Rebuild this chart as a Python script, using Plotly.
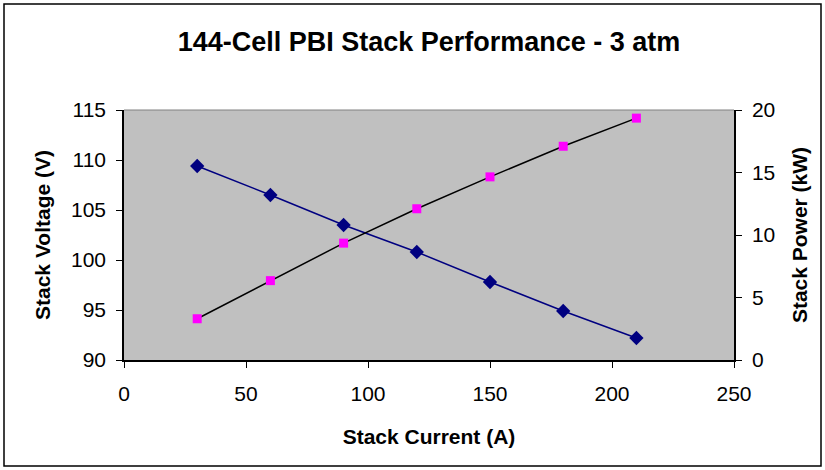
import plotly.graph_objects as go

current = [30, 60, 90, 120, 150, 180, 210]
voltage = [109.4, 106.5, 103.5, 100.8, 97.8, 94.9, 92.2]
power = [3.3, 6.35, 9.35, 12.1, 14.65, 17.1, 19.35]

W, H = 825, 470
L, R, T, B = 124, 91, 110, 110
pw, ph = W - L - R, H - T - B

font = "Arial, Liberation Sans, sans-serif"
TICK = 21
ATITLE = 21

fig = go.Figure()
fig.add_trace(go.Scatter(
    x=current, y=voltage, mode="lines+markers", name="Voltage",
    line=dict(color="#000080", width=1.5),
    marker=dict(symbol="diamond", size=11, color="#000080"),
    yaxis="y"))
fig.add_trace(go.Scatter(
    x=current, y=power, mode="lines+markers", name="Power",
    line=dict(color="#000000", width=1.5),
    marker=dict(symbol="square", size=9, color="#FF00FF"),
    yaxis="y2"))

axis_common = dict(ticks="outside", ticklen=6, tickcolor="black", showgrid=False,
                   zeroline=False, showline=True, linecolor="black", linewidth=1.5,
                   tickfont=dict(family=font, size=TICK, color="black"))

fig.update_layout(
    width=W, height=H,
    margin=dict(l=L, r=R, t=T, b=B),
    paper_bgcolor="white", plot_bgcolor="#C0C0C0",
    showlegend=False,
    title=dict(text="<b>144-Cell PBI Stack Performance - 3 atm</b>",
               xref="paper", x=0.5, xanchor="center", y=1 - 42 / H, yanchor="middle",
               font=dict(family=font, size=27, color="black")),
    xaxis=dict(range=[0, 250], dtick=50, mirror=False, ticklabelstandoff=8,
               title=dict(text="<b>Stack Current (A)</b>",
                          font=dict(family=font, size=ATITLE, color="black"), standoff=25),
               **axis_common),
    yaxis=dict(range=[90, 115], dtick=5, ticklabelstandoff=6,
               title=dict(text="<b>Stack Voltage (V)</b>",
                          font=dict(family=font, size=ATITLE, color="black"), standoff=15),
               **axis_common),
    yaxis2=dict(range=[0, 20], dtick=5, overlaying="y", side="right", ticklabelstandoff=6,
                title=dict(text="<b>Stack Power (kW)</b>",
                           font=dict(family=font, size=ATITLE, color="black"), standoff=18),
                **axis_common),
    shapes=[
        dict(type="line", xref="paper", yref="paper", x0=0, x1=1, y0=1, y1=1,
             line=dict(color="#808080", width=1)),
        dict(type="rect", xref="paper", yref="paper",
             x0=(4 - L) / pw, x1=(821 - L) / pw,
             y0=(H - B - (H - 4)) / ph, y1=1 + (T - 4) / ph,
             line=dict(color="black", width=1.5), fillcolor="rgba(0,0,0,0)",
             layer="below"),
    ],
)

fig.write_html("out.html")
